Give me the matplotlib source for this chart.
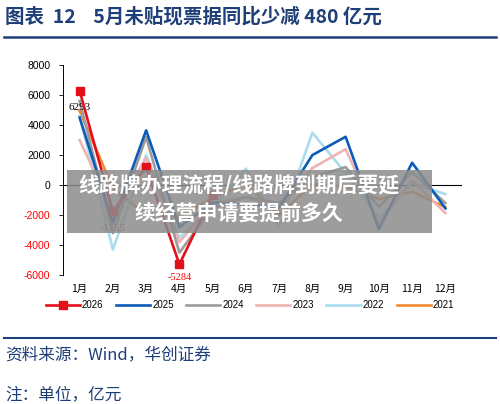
import matplotlib.pyplot as plt
from matplotlib.lines import Line2D
from matplotlib.patches import Rectangle

plt.rcParams['font.family'] = ['Liberation Sans', 'Noto Sans CJK SC', 'DejaVu Sans']

months = ['1月', '2月', '3月', '4月', '5月', '6月', '7月', '8月', '9月', '10月', '11月', '12月']
y2026 = [6293, -1755, 1200, -5284, -680]
y2025 = [4500, -2500, 3650, -2800, -1160, -1300, -1500, 2000, 3220, -2930, 1490, -1550]
y2024 = [5600, -3200, 3200, -4500, -1500, -800, -1200, 530, 1200, -1470, 870, -1200]
y2023 = [3000, -1800, 1800, -3800, -1200, -800, -1600, 1130, 2400, -2530, 330, -1870]
y2022 = [4600, -4300, 2000, -3500, -1500, 1100, -2800, 3490, 800, -2200, 130, -600]
y2021 = [4950, -200, -2000, -2100, -870, 100, -2000, 70, -100, -930, -450, -1470]
yticks = [8000, 6000, 4000, 2000, 0, -2000, -4000, -6000]

navy = '#1f3f78'
fig = plt.figure(figsize=(5.0, 4.04), dpi=100)
ax = fig.add_axes([0.126, 0.319, 0.798, 0.520])

x = list(range(len(months)))
series = [
    ('2021', y2021, '#f08a30'),
    ('2022', y2022, '#a9dcec'),
    ('2023', y2023, '#eeb4b4'),
    ('2024', y2024, '#9c9c9c'),
    ('2025', y2025, '#0a5cb8'),
]
handles = {}
for name, vals, c in series:
    h, = ax.plot(x[:len(vals)], vals, color=c, lw=1.9, label=name)
    handles[name] = h
h26, = ax.plot(x[:len(y2026)], y2026, color='#e3101c', lw=1.9, marker='s',
               markersize=6, label='2026', zorder=5)
handles['2026'] = h26

ax.axhline(0, color='black', lw=0.8, zorder=1)
ax.set_xlim(-0.5, 11.5)
ax.set_ylim(-6000, 8000)
ax.set_yticks(yticks)
ax.set_yticklabels([str(v) for v in yticks])
for t, v in zip(ax.get_yticklabels(), yticks):
    t.set_color('red' if v < 0 else 'black')
ax.tick_params(axis='y', labelsize=7.5, length=3, width=0.6, direction='out', pad=6)
ax.set_xticks(x)
ax.set_xticklabels(months, fontsize=7.5, family=['Noto Sans CJK SC'])
ax.tick_params(axis='x', length=0, pad=6)
for s in ['top', 'right', 'bottom']:
    ax.spines[s].set_visible(False)
ax.spines['left'].set_linewidth(0.7)

# data labels
ax.annotate('6293', (0, y2026[0]), xytext=(0, -12), textcoords='offset points',
            ha='center', va='center', fontsize=8, family='Liberation Serif', color='black')
ax.annotate('-1755', (1, y2026[1]), xytext=(0, -12), textcoords='offset points',
            ha='center', va='center', fontsize=8, family='Liberation Serif', color='#a0282c')
ax.annotate('-5284', (3, y2026[3]), xytext=(0, -9.5), textcoords='offset points',
            ha='center', va='center', fontsize=7.5, family='Liberation Serif', color='red')

order = ['2026', '2025', '2024', '2023', '2022', '2021']
leg = fig.legend([handles[k] for k in order], order, loc='center',
                 bbox_to_anchor=(0.5, 0.245), ncol=6, frameon=False, fontsize=7,
                 handlelength=3.5, columnspacing=1.3, handletextpad=0.2)

# title and rules
fig.text(0.01, 0.958, '图表  12    5月未贴现票据同比少减 480 亿元', fontsize=14,
         fontweight='bold', color=navy, va='center', family=['Noto Sans CJK SC'])
fig.add_artist(Line2D([0.008, 0.992], [0.908, 0.908], color=navy, lw=1.8))
fig.add_artist(Line2D([0.008, 0.992], [0.163, 0.163], color=navy, lw=1.5))
fig.text(0.01, 0.122, '资料来源：Wind，华创证券', fontsize=12, color=navy,
         va='center', style='italic', family=['Noto Sans CJK SC'])
fig.text(0.01, 0.022, '注：单位，亿元', fontsize=12, color=navy,
         va='center', style='italic', family=['Noto Sans CJK SC'])

# overlay banner
fig.add_artist(Rectangle((0.134, 0.423), 0.730, 0.156, transform=fig.transFigure,
                         facecolor='#8c8c8c', alpha=0.85, edgecolor='none', zorder=10))
fig.text(0.477, 0.540, '线路牌办理流程/线路牌到期后要延', fontsize=15, fontweight='bold',
         color='white', ha='center', va='center', zorder=11, family=['Noto Sans CJK SC'])
fig.text(0.477, 0.473, '续经营申请要提前多久', fontsize=15, fontweight='bold',
         color='white', ha='center', va='center', zorder=11, family=['Noto Sans CJK SC'])

fig.savefig('out.png', dpi=100)
